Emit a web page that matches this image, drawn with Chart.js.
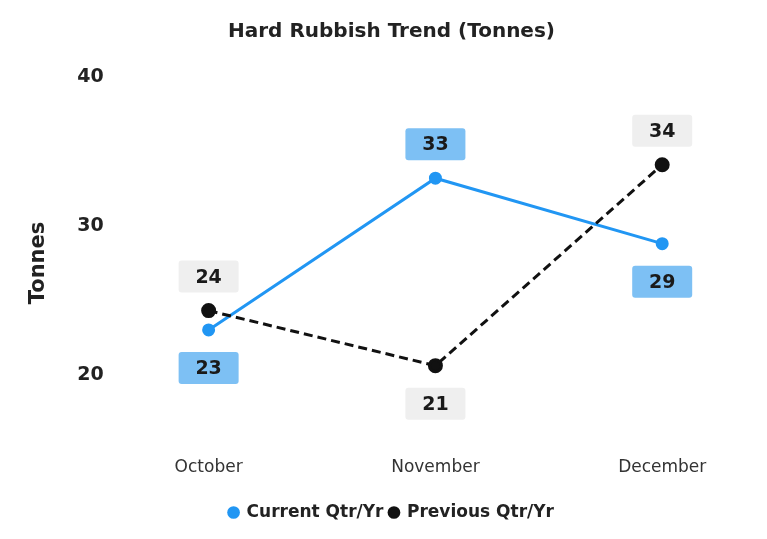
<!DOCTYPE html>
<html>
<head>
<meta charset="utf-8">
<script src="https://cdn.jsdelivr.net/npm/chart.js@4/dist/chart.umd.min.js"></script>
<style>
html,body{margin:0;padding:0;background:#fff;}
#wrap{width:767px;height:539px;position:relative;}
</style>
</head>
<body>
<div id="wrap"><canvas id="c" width="767" height="539"></canvas></div>
<script>
const categories = ["October", "November", "December"];
const currentValues = [23.0, 33.2, 28.8];
const previousValues = [24.3, 20.6, 34.1];
const yTicks = [20, 30, 40];
const seriesNames = ["Current Qtr/Yr", "Previous Qtr/Yr"];

const FONT = "'DejaVu Sans', sans-serif";

const labelPlugin = {
  id: 'valueLabels',
  afterDatasetsDraw(chart) {
    const ctx = chart.ctx;
    const all = chart.data.datasets.map(d => d.data.map(p => p.y));
    chart.data.datasets.forEach((ds, di) => {
      const meta = chart.getDatasetMeta(di);
      const other = all[1 - di];
      meta.data.forEach((pt, i) => {
        const v = ds.data[i].y;
        const above = v > other[i];
        const cx = pt.x;
        const cy = above ? pt.y - 34 : pt.y + 38;
        const w = 60, h = 32;
        ctx.save();
        ctx.fillStyle = ds.labelBg;
        ctx.beginPath();
        if (ctx.roundRect) ctx.roundRect(cx - w/2, cy - h/2, w, h, 3); else ctx.rect(cx - w/2, cy - h/2, w, h);
        ctx.fill();
        ctx.fillStyle = '#1a1a1a';
        ctx.font = "bold 19px " + FONT;
        ctx.textAlign = 'center';
        ctx.textBaseline = 'middle';
        ctx.fillText(String(Math.round(v)), cx, cy + 1);
        ctx.restore();
      });
    });
  }
};

new Chart(document.getElementById('c'), {
  type: 'line',
  data: {
    datasets: [
      {
        label: seriesNames[0],
        data: currentValues.map((v, i) => ({x: i, y: v})),
        borderColor: '#2196F3',
        backgroundColor: '#2196F3',
        borderWidth: 3,
        pointRadius: 5,
        pointHoverRadius: 5,
        labelBg: '#7DC0F4',
        clip: false,
        order: 1
      },
      {
        label: seriesNames[1],
        data: previousValues.map((v, i) => ({x: i, y: v})),
        borderColor: '#111111',
        backgroundColor: '#111111',
        borderWidth: 3,
        borderDash: [9, 5],
        pointRadius: 6,
        pointHoverRadius: 6,
        labelBg: '#EFEFEF',
        clip: false,
        order: 0
      }
    ]
  },
  options: {
    responsive: false,
    animation: false,
    layout: { padding: { left: 26, right: 10, top: 18, bottom: 8 } },
    plugins: {
      title: {
        display: true,
        text: 'Hard Rubbish Trend (Tonnes)',
        color: '#222',
        font: { family: FONT, size: 20, weight: 'bold' },
        padding: { top: 2, bottom: 33 }
      },
      legend: {
        display: true,
        position: 'bottom',
        labels: {
          usePointStyle: true,
          pointStyle: 'circle',
          boxWidth: 9,
          boxHeight: 9,
          padding: 6,
          color: '#222',
          font: { family: FONT, size: 17, weight: 'bold' },
          sort: (a, b) => a.datasetIndex - b.datasetIndex,
          generateLabels: (chart) => {
            const items = Chart.defaults.plugins.legend.labels.generateLabels(chart);
            items.forEach(it => { it.lineWidth = 0; it.lineDash = []; });
            return items;
          }
        }
      },
      tooltip: { enabled: false }
    },
    scales: {
      x: {
        type: 'linear',
        min: -0.41,
        max: 2.418,
        grid: { display: false, drawTicks: false },
        border: { display: false },
        afterBuildTicks: (axis) => { axis.ticks = categories.map((c, i) => ({ value: i })); },
        afterFit: (axis) => { axis.height = 49; },
        ticks: {
          padding: 8,
          color: '#333',
          font: { family: FONT, size: 17 },
          callback: (v) => categories[v]
        }
      },
      y: {
        min: 15.0,
        max: 40,
        grid: { display: false, drawTicks: false },
        border: { display: false },
        afterBuildTicks: (axis) => { axis.ticks = yTicks.map(v => ({ value: v })); },
        ticks: {
          padding: 12,
          color: '#222',
          font: { family: FONT, size: 19, weight: 'bold' }
        },
        title: {
          display: true,
          text: 'Tonnes',
          color: '#222',
          font: { family: FONT, size: 21, weight: 'bold' },
          padding: { top: 0, bottom: 14 }
        }
      }
    }
  },
  plugins: [labelPlugin]
});
</script>
</body>
</html>
